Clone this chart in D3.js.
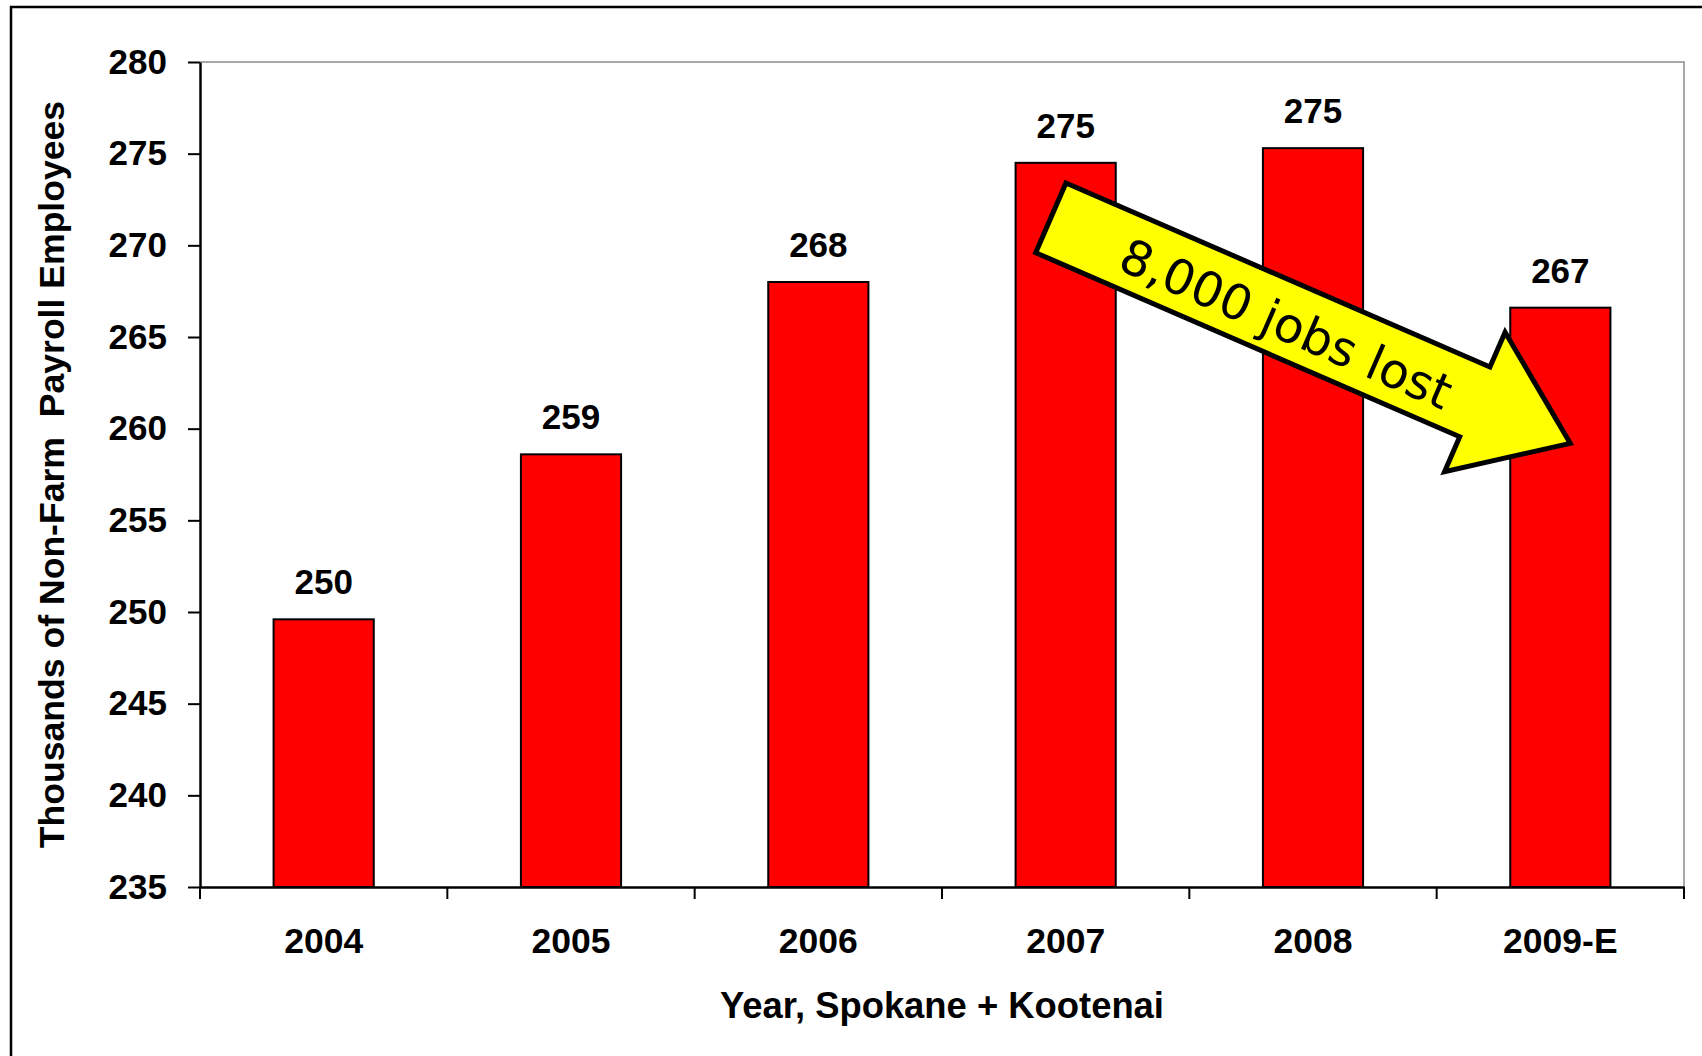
<!DOCTYPE html>
<html>
<head>
<meta charset="utf-8">
<script src="https://cdn.jsdelivr.net/npm/d3@7"></script>
<style>
  body { margin: 0; background: #fff; }
  text { font-family: "Liberation Sans", Arial, sans-serif; }
</style>
</head>
<body>
<div id="chart"></div>
<script>
// chart data
const categories = ["2004", "2005", "2006", "2007", "2008", "2009-E"];
const employees = [249.6, 258.6, 268.0, 274.5, 275.3, 266.6];
const yTicks = [235, 240, 245, 250, 255, 260, 265, 270, 275, 280];
const yTitle = "Thousands of Non-Farm  Payroll Employees";
const xTitle = "Year, Spokane + Kootenai";
const arrowText = "8,000 jobs lost";

const createGraph = () => {
  const width = 1702;
  const height = 1056;
  const plot = { left: 200, top: 62, right: 1684, bottom: 887 };

  const svg = d3.select('#chart').append('svg')
    .attr('width', width)
    .attr('height', height);

  // outer frame
  svg.append('rect')
    .attr('x', 11).attr('y', 7)
    .attr('width', 1720).attr('height', 1080)
    .attr('fill', 'none')
    .attr('stroke', '#000')
    .attr('stroke-width', 2.5);

  const x = d3.scaleBand()
    .domain(categories)
    .range([plot.left, plot.right])
    .padding(0);

  const y = d3.scaleLinear()
    .domain([235, 280])
    .range([plot.bottom, plot.top]);

  const barW = x.bandwidth() * 0.405;

  // plot area border (top / right)
  svg.append('path')
    .attr('d', `M${plot.left},${plot.top}H${plot.right}V${plot.bottom}`)
    .attr('fill', 'none')
    .attr('stroke', '#8c8c8c')
    .attr('stroke-width', 1.5);

  // bars
  svg.selectAll('.bar')
    .data(categories)
    .enter().append('rect')
    .attr('class', 'bar')
    .attr('x', (d) => x(d) + (x.bandwidth() - barW) / 2)
    .attr('y', (d, i) => y(employees[i]))
    .attr('width', barW)
    .attr('height', (d, i) => y(235) - y(employees[i]))
    .attr('fill', '#ff0000')
    .attr('stroke', '#000')
    .attr('stroke-width', 2);

  // value labels
  svg.selectAll('.val')
    .data(categories)
    .enter().append('text')
    .attr('class', 'val')
    .attr('x', (d) => x(d) + x.bandwidth() / 2)
    .attr('y', (d, i) => y(employees[i]) - 25)
    .attr('text-anchor', 'middle')
    .style('font-size', '35px')
    .style('font-weight', 'bold')
    .text((d, i) => Math.round(employees[i]));

  // y axis
  const yAxis = svg.append('g')
    .attr('transform', `translate(${plot.left},0)`)
    .call(d3.axisLeft(y).tickValues(yTicks).tickSize(12).tickSizeOuter(0).tickPadding(21));
  yAxis.selectAll('line').attr('stroke', '#000').attr('stroke-width', 2);
  yAxis.select('.domain').attr('stroke', '#000').attr('stroke-width', 2.5);
  yAxis.selectAll('text')
    .attr('fill', '#000')
    .style('font-size', '35px')
    .style('font-weight', 'bold')
    .style('font-family', '"Liberation Sans", Arial, sans-serif');

  // x axis
  const xAxis = svg.append('g')
    .attr('transform', `translate(0,${plot.bottom})`)
    .call(d3.axisBottom(x).tickSize(0).tickSizeOuter(0).tickPadding(41));
  xAxis.select('.domain').attr('stroke', '#000').attr('stroke-width', 2.5);
  xAxis.selectAll('text')
    .attr('fill', '#000')
    .style('font-size', '35.5px')
    .style('font-weight', 'bold')
    .style('font-family', '"Liberation Sans", Arial, sans-serif');

  // category boundary ticks
  const bounds = categories.map((d) => x(d)).concat([x.range()[1]]);
  svg.selectAll('.xtick')
    .data(bounds)
    .enter().append('line')
    .attr('class', 'xtick')
    .attr('x1', (d) => d).attr('x2', (d) => d)
    .attr('y1', plot.bottom).attr('y2', plot.bottom + 12)
    .attr('stroke', '#000')
    .attr('stroke-width', 2);

  // axis titles
  svg.append('text')
    .attr('transform', `translate(64,${(plot.top + plot.bottom) / 2}) rotate(-90)`)
    .attr('text-anchor', 'middle')
    .style('font-size', '35.6px')
    .style('font-weight', 'bold')
    .style('white-space', 'pre')
    .text(yTitle);

  svg.append('text')
    .attr('x', (plot.left + plot.right) / 2)
    .attr('y', 1018)
    .attr('text-anchor', 'middle')
    .style('font-size', '36.4px')
    .style('font-weight', 'bold')
    .text(xTitle);

  // arrow annotation, anchored to the scales
  const from = [x("2007") + x.bandwidth() * 0.44, y(271.5)];
  const to = [x("2009-E") + x.bandwidth() * 0.54, y(259.2)];
  const dx = to[0] - from[0];
  const dy = to[1] - from[1];
  const len = Math.sqrt(dx * dx + dy * dy);
  const angle = Math.atan2(dy, dx) * 180 / Math.PI;
  const shaft = 38, head = 76, headLen = 104;
  const pts = [
    [0, -shaft], [len - headLen, -shaft], [len - headLen, -head], [len, 0],
    [len - headLen, head], [len - headLen, shaft], [0, shaft]
  ];

  const arrow = svg.append('g')
    .attr('transform', `translate(${from[0]},${from[1]}) rotate(${angle})`);

  arrow.append('path')
    .attr('d', d3.line()(pts) + 'Z')
    .attr('fill', '#ffff00')
    .attr('stroke', '#000')
    .attr('stroke-width', 5)
    .attr('stroke-linejoin', 'miter');

  arrow.append('text')
    .attr('x', 258)
    .attr('y', 3)
    .attr('dy', '0.36em')
    .attr('text-anchor', 'middle')
    .style('font-family', '"DejaVu Sans", Verdana, sans-serif')
    .style('font-size', '48.5px')
    .text(arrowText);
}

createGraph();
</script>
</body>
</html>
